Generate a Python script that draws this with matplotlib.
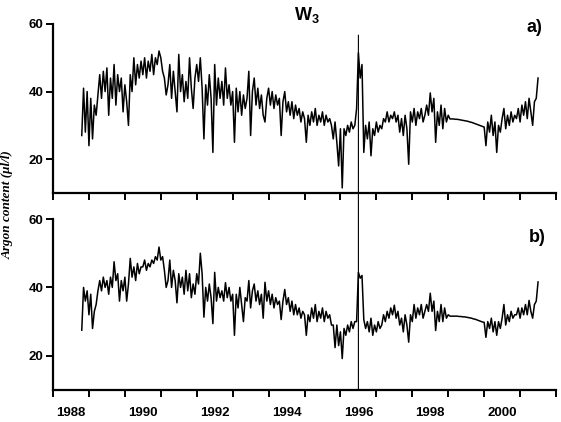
import numpy as np
import matplotlib
matplotlib.use("Agg")
import matplotlib.pyplot as plt
from matplotlib.patches import ConnectionPatch

# argon content, W3 well, sampled every 0.05 yr from 1988.30
t_start = 1988.30
t_step = 0.05

# a) raw series
argon_a = [
    27, 41, 28, 40, 24, 38, 26, 36, 33, 39,            # 1988.30-
    45, 38, 46, 40, 47,                                # 1988.80-
    33, 44, 38, 48, 36, 45, 40, 44, 34, 42, 37, 30,    # 1989.05-
    45, 40, 50, 42, 48, 44, 49,                        # 1989.65-
    45, 50, 44, 49, 46, 51, 45, 50, 48, 52,            # 1990.00-
    50, 46, 44, 39, 42,                                # 1990.50-
    48, 38, 46, 40, 34, 51,                            # 1990.75-
    40, 45, 37, 43, 38, 50, 41, 35, 44,                # 1991.05-
    48, 43, 50, 41,                                    # 1991.50-
    26, 42, 36, 45, 38, 22,                            # 1991.70-
    48, 36, 44, 38, 43, 36, 47, 38, 42, 36, 40,        # 1992.00-
    25, 41, 34, 40, 33, 39, 35, 38, 46,                # 1992.55-
    27, 40, 44, 36, 41, 35, 39, 33, 31, 38,            # 1993.00-
    41, 36, 40, 35, 39, 36, 38, 27,                    # 1993.50-
    37, 40, 34, 37,                                    # 1993.90-
    33, 37, 32, 36, 33, 35, 31, 34, 32, 25, 33,        # 1994.10-
    30, 34, 31, 35, 30, 33, 31, 34, 30, 33, 31, 32, 30,  # 1994.65-
    26, 31, 25,                                        # 1995.30-
    18, 29, 11.5,                                      # 1995.45-
    29, 27, 30, 28, 31, 29, 30,                        # 1995.60-
    35, 51.5, 44, 48, 22,                              # 1995.95-
    30, 26, 31, 21, 29, 27, 31, 28, 30, 29,            # 1996.20-
    32, 31, 34, 31, 33, 32, 34, 31, 33,                # 1996.70-
    28, 32, 27, 33, 29, 18.5,                          # 1997.15-
    34, 31, 35, 30, 34, 32, 35, 31, 33,                # 1997.45-
    36, 33, 39.6, 34, 38,                              # 1997.90-
    25, 34, 30, 36, 29, 35, 31, 33,                    # 1998.15-
    31.9, 31.9, 31.9, 31.8, 31.8, 31.7, 31.6, 31.5, 31.4, 31.3,  # 1998.55-
    31.2, 31.0, 30.9, 30.7, 30.5, 30.3, 30.1, 29.9, 29.7, 29.5,
    24, 31, 28, 33, 27, 31, 22, 30, 28, 32,            # 1999.55-
    35, 29, 33, 30, 34, 31, 33,                        # 2000.05-
    32, 35, 31, 36, 33, 37, 32, 38, 34, 30, 37,        # 2000.40-
    38, 44,                                            # 2000.95-
]

# b) smoothed series
argon_b = [
    27.5, 40, 36, 39, 32, 38, 28, 33, 35, 39,
    42, 39, 43, 40, 42,
    38, 43, 40, 47.5, 42, 44, 36, 42, 39, 43, 36, 41,
    48.5, 43, 46, 42, 47, 44, 46,
    46, 48, 45, 47, 46, 48, 47, 49, 48, 51.8,
    48, 49, 45, 40, 42,
    48, 40, 45, 42, 35.5, 44,
    40, 43, 38, 45, 39, 44, 37, 41, 38,
    44, 41, 50, 44,
    31.3, 40, 36, 41, 37, 29.4,
    44.4, 36, 40, 37, 39, 36, 41.4, 37, 40, 36, 38,
    26, 38, 34, 40, 35, 30, 37, 36, 42,
    34, 39, 41, 36, 39, 35, 38, 31, 41.5, 36,
    39, 35, 38, 34, 37, 35, 36, 30.6,
    36, 39.4, 35, 37,
    33, 36, 32, 35, 32, 34, 31, 33, 32, 26, 32,
    30, 34, 31, 35, 30, 33, 31, 34, 30, 33, 31, 32, 29,
    29, 22.4, 29,
    23, 27, 19.2,
    28, 26, 29, 27, 30, 28, 30,
    30, 44.4, 42.7, 43.5, 30.6,
    28, 30, 27, 31, 26, 29, 27, 30, 28, 29,
    32, 30, 33, 31, 34, 32, 34.8, 31, 33,
    29, 31, 27, 32, 29, 24,
    32, 30, 35, 31, 34, 32, 35, 31, 33,
    35, 33, 38.3, 33, 36,
    27.4, 33, 30, 35, 30, 34, 31, 32,
    31.6, 31.6, 31.6, 31.6, 31.6, 31.5, 31.5, 31.4, 31.4, 31.3,
    31.2, 31.1, 31.0, 30.8, 30.7, 30.5, 30.3, 30.1, 29.9, 29.8,
    25.4, 30, 28, 31, 27, 30, 26, 30, 28, 31,
    35, 29, 32, 30, 33, 31, 32,
    32, 34, 31, 34, 32, 35, 32, 36.2, 33, 31, 35,
    36, 41.6,
]

event_year = 1996.0
year_labels = [1988, 1990, 1992, 1994, 1996, 1998, 2000]

t_a = t_start + t_step * np.arange(len(argon_a))
t_b = t_start + t_step * np.arange(len(argon_b))

plt.rcParams["font.family"] = ["Liberation Sans", "DejaVu Sans"]
plt.rcParams["mathtext.default"] = "regular"

fig = plt.figure(figsize=(5.61, 4.22), dpi=100)
ax1 = fig.add_axes([0.0945, 0.5427, 0.8966, 0.4005])
ax2 = fig.add_axes([0.0945, 0.0758, 0.8966, 0.4052])

for ax, t, y in [(ax1, t_a, argon_a), (ax2, t_b, argon_b)]:
    ax.plot(t, y, color="black", lw=1.1)
    ax.set_xlim(1987.5, 2001.5)
    ax.set_ylim(10, 60)
    ax.spines["top"].set_visible(False)
    ax.spines["right"].set_visible(False)
    ax.spines["left"].set_linewidth(1.6)
    ax.spines["bottom"].set_linewidth(1.6)
    ax.set_yticks([20, 40, 60])
    ax.tick_params(axis="y", direction="out", length=5, width=1.4, pad=2,
                   labelsize=9.5)
    # year boundaries marked, labels centred on the year
    ax.set_xticks(np.arange(1987.5, 2002, 1.0))
    ax.set_xticklabels([])
    ax.set_xticks(year_labels, minor=True)
    ax.tick_params(axis="x", which="major", direction="out", length=5, width=1.4)
    ax.tick_params(axis="x", which="minor", length=0, pad=12, labelsize=9.5)
    for lab in ax.get_yticklabels():
        lab.set_fontweight("bold")

ax1.set_xticklabels([], minor=True)
ax2.set_xticklabels([str(y) for y in year_labels], minor=True, fontweight="bold")

con = ConnectionPatch(xyA=(event_year, 56.7), coordsA=ax1.transData,
                      xyB=(event_year, 10), coordsB=ax2.transData,
                      color="black", lw=0.8)
fig.add_artist(con)

fig.text(0.547, 0.965, r"W$_3$", ha="center", va="center", fontsize=13,
         fontweight="bold")
fig.text(0.952, 0.936, "a)", ha="center", va="center", fontsize=13,
         fontweight="bold")
fig.text(0.957, 0.438, "b)", ha="center", va="center", fontsize=13,
         fontweight="bold")
fig.text(0.014, 0.514, "Argon content (\u03bcl/l)", rotation=90, ha="center",
         va="center", fontsize=9.5, fontstyle="italic", fontweight="bold",
         family=["Liberation Serif", "DejaVu Serif"])

fig.savefig("out.png", dpi=100)
